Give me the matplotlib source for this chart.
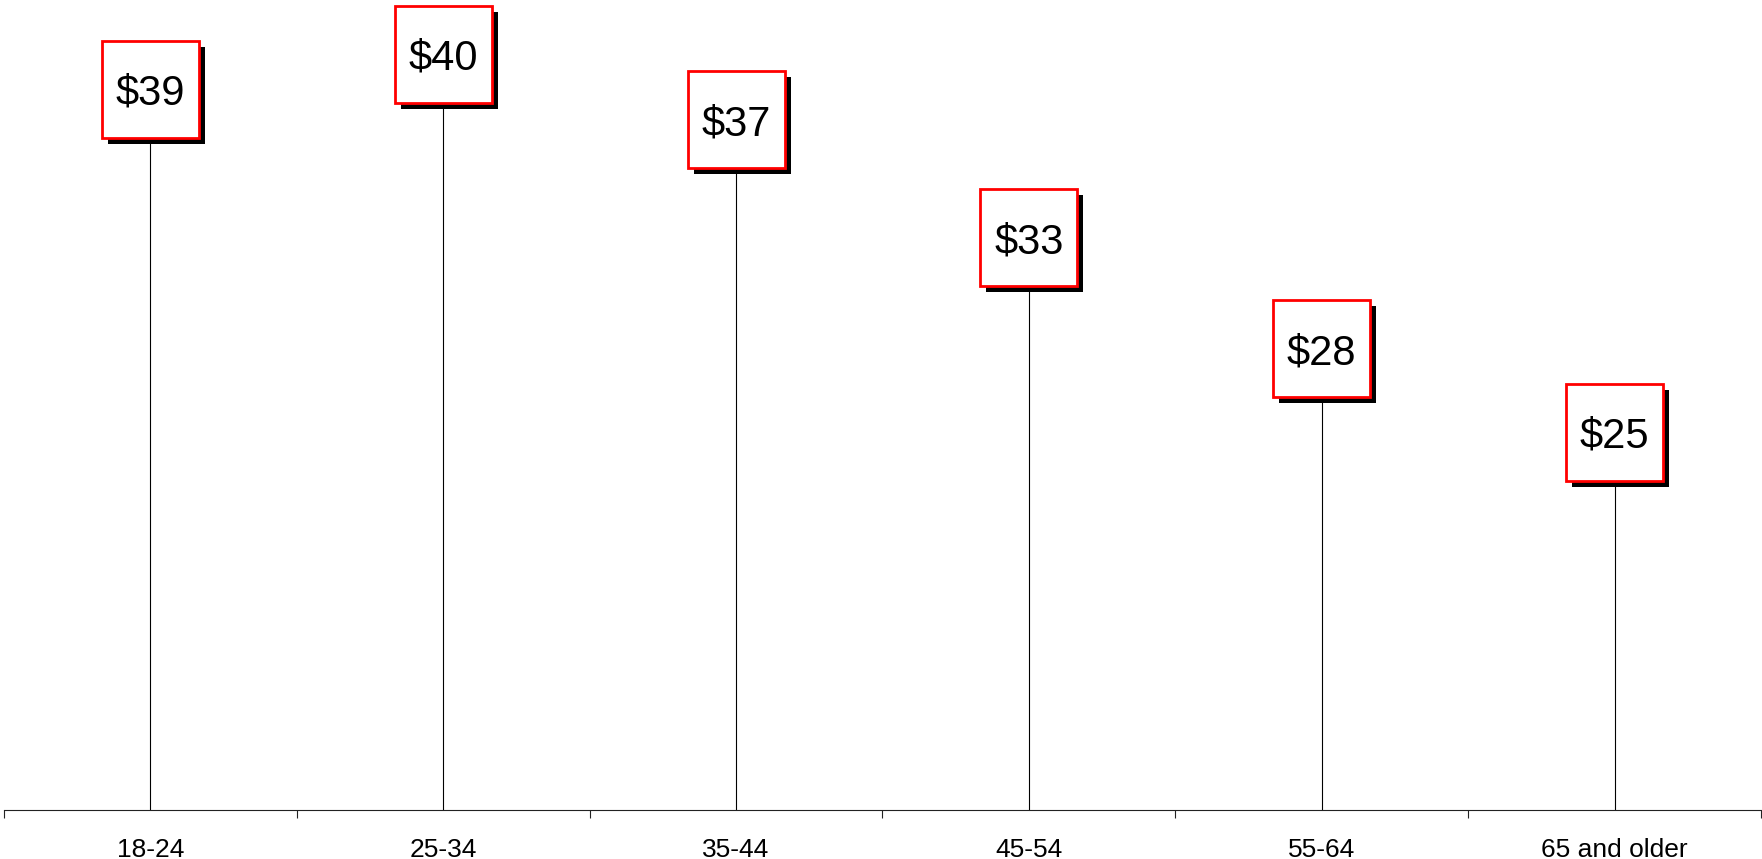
import matplotlib
matplotlib.use("Agg")
import matplotlib.pyplot as plt
import matplotlib.patches as patches
import matplotlib.transforms as mtransforms
import numpy as np

# spending by age group (labels shown rounded to whole dollars)
age_groups = ["18-24", "25-34", "35-44", "45-54", "55-64", "65 and older"]
spend = [38.6, 40.0, 37.4, 32.7, 28.3, 25.0]
y_min, y_max = 10, 40

plt.rcParams['font.family'] = ['Liberation Sans', 'DejaVu Sans']

W, H, DPI = 1762, 859, 100
fig = plt.figure(figsize=(W / DPI, H / DPI), dpi=DPI)
ax = fig.add_axes([4 / W, 49 / H, 1757 / W, 756 / H])

x = np.arange(len(age_groups))
ax.vlines(x, y_min, spend, color='black', linewidth=0.8, zorder=1)

box = 97    # label box size, px
shadow = 6  # shadow offset, px
for xi, v in zip(x, spend):
    at_point = mtransforms.ScaledTranslation(xi, v, ax.transData)
    trans = mtransforms.IdentityTransform() + at_point
    sh = patches.Rectangle((-box / 2 + shadow, -box / 2 - shadow), box, box,
                           facecolor='black', edgecolor='none',
                           transform=trans, clip_on=False, zorder=3)
    rect = patches.Rectangle((-box / 2, -box / 2), box, box,
                             facecolor='white', edgecolor='#ff0000',
                             linewidth=2, transform=trans, clip_on=False, zorder=4)
    ax.add_patch(sh)
    ax.add_patch(rect)
    ax.text(xi, v, f"${v:.0f}", fontsize=30, ha='center', va='center_baseline',
            zorder=5, clip_on=False)

ax.set_xlim(-0.5, len(age_groups) - 0.5)
ax.set_ylim(y_min, y_max)

for s in ['top', 'right', 'left']:
    ax.spines[s].set_visible(False)
ax.spines['bottom'].set_color('#222222')
ax.spines['bottom'].set_linewidth(0.8)
ax.set_yticks([])

ax.set_xticks(x)
ax.set_xticklabels(age_groups, fontsize=19)
ax.tick_params(axis='x', which='major', length=0, pad=20.5)
ax.set_xticks(np.arange(-0.5, len(age_groups)), minor=True)
ax.tick_params(axis='x', which='minor', length=6, width=0.8, color='#222222', direction='out')

fig.savefig("out.png", dpi=DPI)
